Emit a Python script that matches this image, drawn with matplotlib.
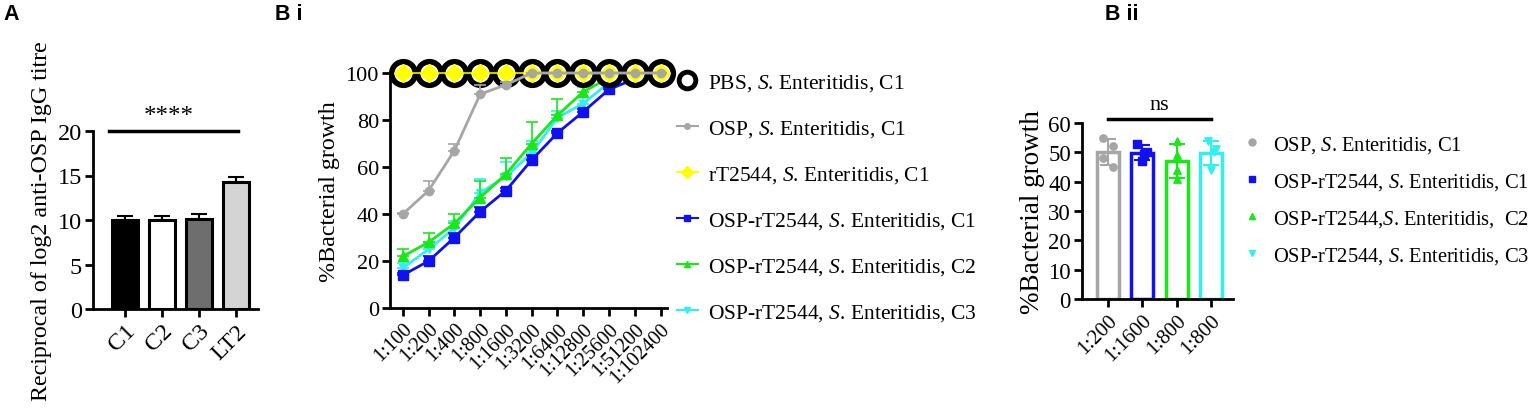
import numpy as np
import matplotlib
matplotlib.use('Agg')
import matplotlib.pyplot as plt
from matplotlib.lines import Line2D

plt.rcParams['font.family'] = ['Liberation Serif', 'DejaVu Serif']
plt.rcParams['mathtext.fontset'] = 'custom'
plt.rcParams['mathtext.rm'] = 'Liberation Serif'
plt.rcParams['mathtext.it'] = 'Liberation Serif:italic'
plt.rcParams['axes.linewidth'] = 2.0

# ---- panel A data
groups_a = ['C1', 'C2', 'C3', 'LT2']
titre_a = [10.0, 10.0, 10.1, 14.3]
titre_err = [0.5, 0.5, 0.6, 0.5]
colors_a = ['#000000', '#ffffff', '#6e6e6e', '#d4d4d4']

# ---- panel B i data
dilutions = ['1:100', '1:200', '1:400', '1:800', '1:1600', '1:3200',
             '1:6400', '1:12800', '1:25600', '1:51200', '1:102400']
pbs_c1 = [100, 100, 100, 100, 100, 100, 100, 100, 100, 100, 100]
rt_c1 = [100, 100, 100, 100, 100, 100, 100, 100, 100, 100, 100]
osp_c1 = [40, 50, 67, 91, 95, 100, 100, 100, 100, 100, 100]
osp_c1_err = [0.5, 4, 3, 4, 1, 0, 0, 0, 0, 0, 0]
osprt_c1 = [14, 20, 30, 41, 50, 63, 74.5, 83.5, 93, 97.5, 100]
osprt_c1_err = [1, 2, 2, 2, 1, 2, 1, 1, 1, 1, 0]
osprt_c2 = [22, 28, 36, 47, 57, 70, 82, 92, 98, 100, 100]
osprt_c2_err = [3, 4, 4, 7, 7, 9, 7, 3, 2, 0, 0]
osprt_c3 = [17, 25, 34, 49, 56, 66, 81, 87, 96, 99, 100]
osprt_c3_err = [2, 3, 3, 6, 6, 5, 3, 7, 2, 1, 0]

# ---- panel B ii data
groups_b2 = ['1:200', '1:1600', '1:800', '1:800']
reps_b2 = [[55, 52, 48, 45],
           [53, 50, 49.5, 47],
           [54, 49, 44, 41],
           [54, 51, 50, 44]]

gray = '#a6a6a6'
blue = '#1010f0'
green = '#18e818'
cyan = '#30f0f0'
yellow = '#ffff00'

fig = plt.figure(figsize=(15.35, 4.1), dpi=100)
W, H = 1535, 410


def px_axes(l, r, t, b):
    return fig.add_axes([l / W, 1 - b / H, (r - l) / W, (b - t) / H])


def style(ax, size):
    ax.spines['top'].set_visible(False)
    ax.spines['right'].set_visible(False)
    ax.tick_params(width=2, length=6, direction='out', labelsize=size, pad=2)


# ================= panel A
axa = px_axes(93, 258, 132, 310)
xa = np.arange(len(groups_a))
axa.bar(xa, titre_a, width=0.7, color=colors_a, edgecolor='black', linewidth=2.2,
        yerr=[np.zeros(4), titre_err], error_kw=dict(ecolor='black', elinewidth=1.5, capsize=6, capthick=1.5),
        zorder=3)
axa.set_ylim(0, 20)
axa.set_xlim(-0.86, 3.6)
axa.set_yticks([0, 5, 10, 15, 20])
axa.set_xticks(xa)
axa.set_xticklabels(groups_a, rotation=45, ha='right', rotation_mode='anchor')
style(axa, 17.5)
axa.set_ylabel('Reciprocal of log2 anti-OSP IgG titre', fontsize=17.3, labelpad=4)
axa.plot([-0.42, 3.05], [20, 20], color='black', lw=2.5, clip_on=False)
axa.text(1.2, 20.5, '****', ha='center', va='bottom', fontsize=18, clip_on=False)
fig.text(3 / W, 1 - 20 / H, 'A', fontsize=15.5, fontweight='bold', family='Liberation Sans')

# ================= panel B i
axb = px_axes(390, 667, 74, 309)
xb = np.arange(len(dilutions))
ekw = dict(capsize=4, elinewidth=1.2, capthick=1.2)
axb.errorbar(xb, osprt_c3, yerr=[np.zeros(11), osprt_c3_err], color=cyan, lw=2,
             marker='v', ms=6, clip_on=False, zorder=3, **ekw)
axb.errorbar(xb, osprt_c2, yerr=[np.zeros(11), osprt_c2_err], color=green, lw=2,
             marker='^', ms=7, clip_on=False, zorder=4, **ekw)
axb.errorbar(xb, osprt_c1, yerr=[np.zeros(11), osprt_c1_err], color=blue, lw=2,
             marker='s', ms=7, clip_on=False, zorder=5, **ekw)
axb.plot(xb, pbs_c1, color='black', lw=1, marker='o', ms=17, mfc='white', mec='black',
         mew=4, clip_on=False, zorder=6)
axb.plot(xb, rt_c1, color='#c8c800', lw=1.5, marker='D', ms=9, mfc=yellow, mec=yellow,
         clip_on=False, zorder=7)
axb.errorbar(xb, osp_c1, yerr=[np.zeros(11), osp_c1_err], color=gray, lw=2,
             marker='o', ms=6, clip_on=False, zorder=8, **ekw)
axb.set_ylim(0, 100)
axb.set_xlim(-0.5, 10.25)
axb.set_yticks([0, 20, 40, 60, 80, 100])
axb.set_xticks(xb)
axb.set_xticklabels(dilutions, rotation=45, ha='right', rotation_mode='anchor')
style(axb, 16)
axb.tick_params(axis='x', labelsize=14.5)
axb.set_ylabel('%Bacterial growth', fontsize=17.3, labelpad=4)
fig.text(275 / W, 1 - 20 / H, 'B i', fontsize=15.5, fontweight='bold', family='Liberation Sans')

handles_b = [
    Line2D([], [], ls='none', marker='o', ms=12, mfc='white', mec='black', mew=3.5),
    Line2D([], [], color=gray, lw=1.5, marker='o', ms=4),
    Line2D([], [], color=yellow, lw=1.5, marker='D', ms=6),
    Line2D([], [], color=blue, lw=1.5, marker='s', ms=5),
    Line2D([], [], color=green, lw=1.5, marker='^', ms=5),
    Line2D([], [], color=cyan, lw=1.5, marker='v', ms=5),
]
labels_b = ['PBS, $S$. Enteritidis, C1', 'OSP, $S$. Enteritidis, C1',
            'rT2544, $S$. Enteritidis, C1', 'OSP-rT2544, $S$. Enteritidis, C1',
            'OSP-rT2544, $S$. Enteritidis, C2', 'OSP-rT2544, $S$. Enteritidis, C3']
fig.legend(handles_b, labels_b, loc='upper left', bbox_to_anchor=(668 / W, 1 - 64 / H),
           frameon=False, fontsize=15.5, labelspacing=1.17, handlelength=1.0,
           handletextpad=0.45, borderaxespad=0)

# ================= panel B ii
axc = px_axes(1082, 1233, 124, 300)
xc = np.arange(len(groups_b2))
cols_c = [gray, blue, green, cyan]
marks_c = ['o', 's', '^', 'v']
offs = [[-0.15, 0.15, -0.15, 0.15], [-0.15, 0.15, 0.05, 0.0],
        [0.0, 0.0, 0.0, 0.0], [-0.1, 0.15, 0.1, 0.0]]
for i in range(4):
    vals = np.array(reps_b2[i])
    m = vals.mean()
    sd = vals.std(ddof=1)
    axc.bar(xc[i], m, width=0.64, facecolor='white', edgecolor=cols_c[i], linewidth=2.5, zorder=2)
    axc.errorbar(xc[i], m, yerr=sd, color=cols_c[i], capsize=6, elinewidth=1.5, capthick=1.5, zorder=3)
    axc.scatter(xc[i] + np.array(offs[i]), vals, color=cols_c[i], marker=marks_c[i], s=28, zorder=4)
axc.set_ylim(0, 60)
axc.set_xlim(-0.75, 3.64)
axc.set_yticks(np.arange(0, 61, 10))
axc.set_xticks(xc)
axc.set_xticklabels(groups_b2, rotation=45, ha='right', rotation_mode='anchor')
style(axc, 16.5)
axc.tick_params(axis='x', labelsize=15)
axc.set_ylabel('%Bacterial growth', fontsize=19.5, labelpad=2)
axc.plot([0, 3.0], [61.5, 61.5], color='black', lw=2.5, clip_on=False)
axc.text(1.5, 63, 'ns', ha='center', va='bottom', fontsize=16)
fig.text(1105 / W, 1 - 20 / H, 'B ii', fontsize=15.5, fontweight='bold', family='Liberation Sans')

handles_c = [Line2D([], [], ls='none', color=cols_c[i], marker=marks_c[i], ms=5) for i in range(4)]
labels_c = ['OSP, $S$. Enteritidis, C1', 'OSP-rT2544, $S$. Enteritidis, C1',
            'OSP-rT2544,$S$. Enteritidis,  C2', 'OSP-rT2544, $S$. Enteritidis, C3']
fig.legend(handles_c, labels_c, loc='upper left', bbox_to_anchor=(1236 / W, 1 - 127 / H),
           frameon=False, fontsize=14.8, labelspacing=0.78, handlelength=0.8,
           handletextpad=0.6, borderaxespad=0)

fig.savefig('out.png', dpi=100)
